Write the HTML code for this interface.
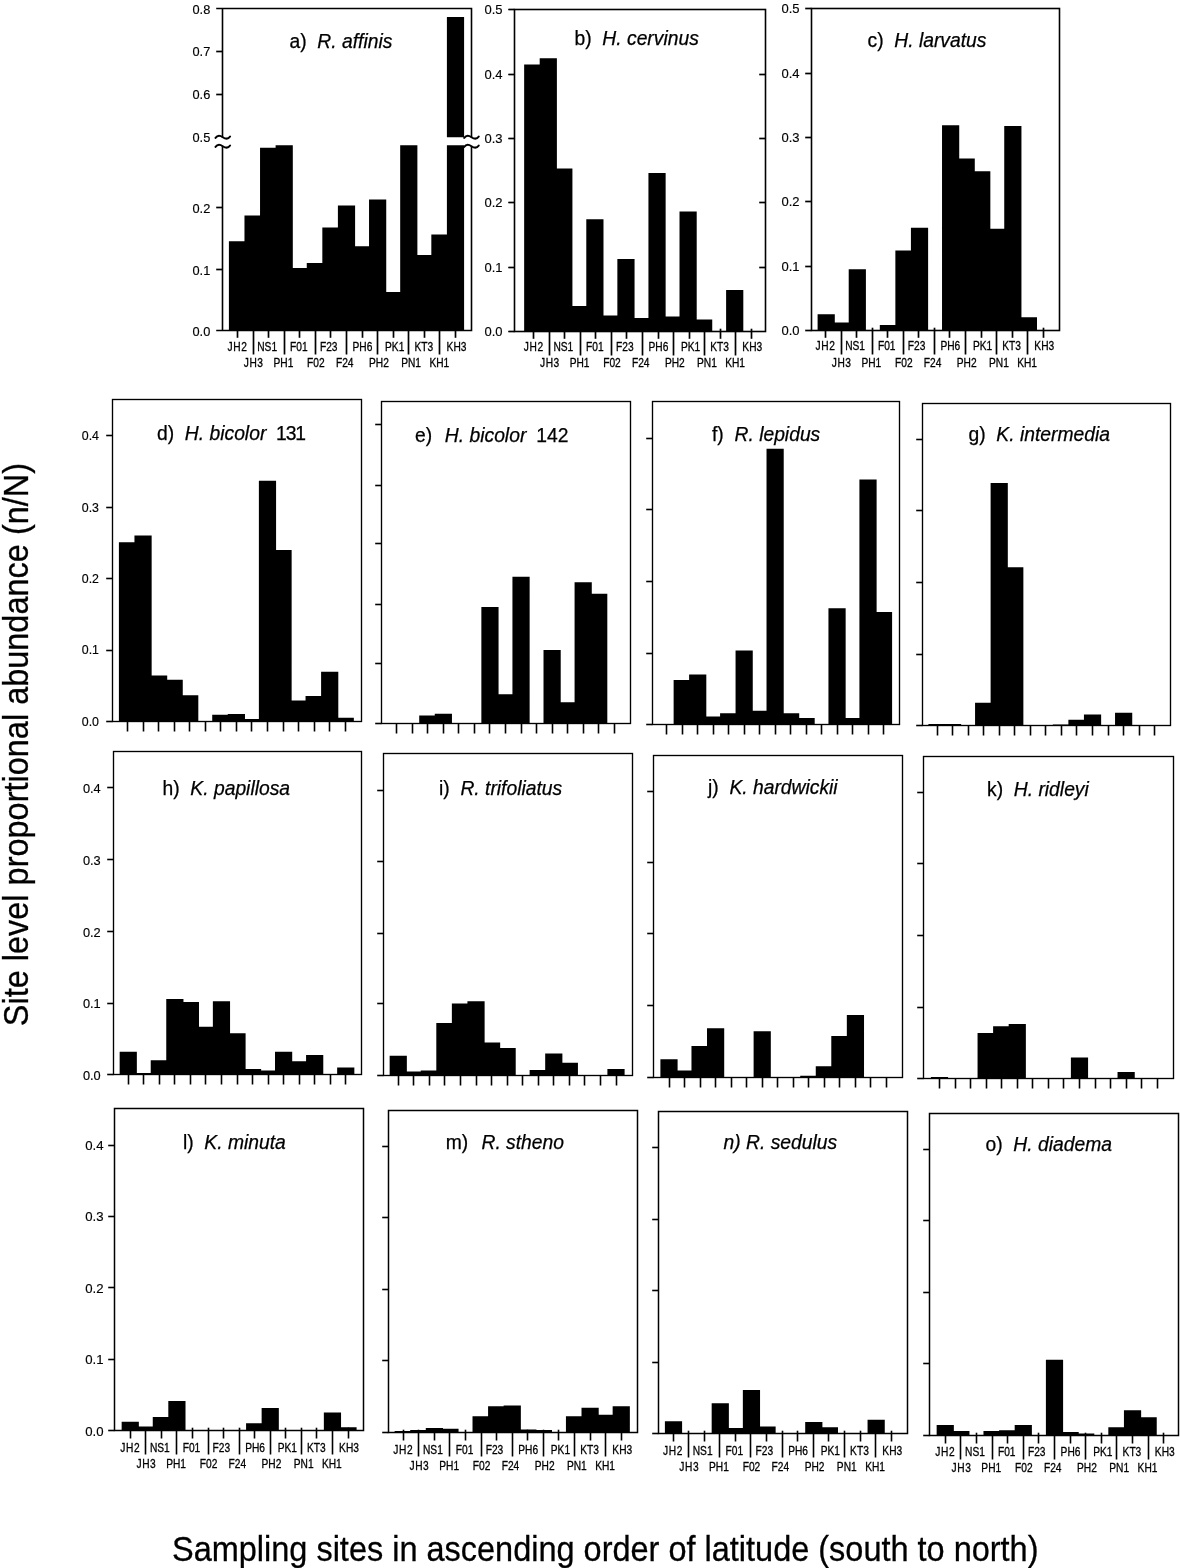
<!DOCTYPE html>
<html lang="en">
<head>
<meta charset="utf-8">
<title>Site level proportional abundance</title>
<style>
html,body{margin:0;padding:0;background:#fff;}
body{width:1180px;height:1568px;overflow:hidden;position:relative;}
svg{will-change:transform;position:absolute;left:0;top:0;display:block;}
text{font-family:"Liberation Sans",sans-serif;fill:#000;}
.f{fill:none;stroke:#000;stroke-width:1.35;}
.k{fill:none;stroke:#000;stroke-width:1.6;}
.top .f{stroke-width:1.6;}
.top .k{stroke-width:1.7;}
.bot .f{stroke-width:1.5;}
.w{fill:none;stroke:#000;stroke-width:2;stroke-linecap:round;}
.b{fill:#000;stroke:none;}
.t{font-size:19.3px;stroke:#000;stroke-width:0.25;}
.y{font-size:12.4px;text-anchor:end;stroke:#000;stroke-width:0.15;}
.x{font-size:12px;text-anchor:middle;stroke:#000;stroke-width:0.3;}
.big{font-size:34.6px;stroke:#000;stroke-width:0.3;}
</style>
</head>
<body>
<svg width="1180" height="1568" viewBox="0 0 1180 1568">
<rect x="0" y="0" width="1180" height="1568" fill="#fff"/>
<g id="pd">
<rect x="112.50" y="399.50" width="249.00" height="322.00" class="f"/>
<path d="M118.90 721.50v-179.25h17.2v179.25zM134.45 721.50v-186.00h17.2v186.00zM150.01 721.50v-46.00h17.2v46.00zM165.56 721.50v-41.75h17.2v41.75zM181.11 721.50v-26.25h17.2v26.25zM196.67 721.50v-0.40h17.2v0.40zM212.22 721.50v-6.75h17.2v6.75zM227.78 721.50v-7.50h17.2v7.50zM243.33 721.50v-2.50h17.2v2.50zM258.88 721.50v-240.75h17.2v240.75zM274.44 721.50v-171.50h17.2v171.50zM289.99 721.50v-21.00h17.2v21.00zM305.54 721.50v-25.50h17.2v25.50zM321.10 721.50v-49.75h17.2v49.75zM336.65 721.50v-3.75h17.2v3.75z" class="b"/>
<path d="M106.20 435.50H112.50" class="k"/>
<text x="99.00" y="440.15" class="y" style="font-size:12.4px">0.4</text>
<path d="M106.20 507.50H112.50" class="k"/>
<text x="99.00" y="511.65" class="y" style="font-size:12.4px">0.3</text>
<path d="M106.20 578.50H112.50" class="k"/>
<text x="99.00" y="582.65" class="y" style="font-size:12.4px">0.2</text>
<path d="M106.20 650.50H112.50" class="k"/>
<text x="99.00" y="654.40" class="y" style="font-size:12.4px">0.1</text>
<path d="M106.20 721.50H112.50" class="k"/>
<text x="99.00" y="726.15" class="y" style="font-size:12.4px">0.0</text>
<path d="M127.50 721.50V731.50" class="k"/>
<path d="M143.50 721.50V731.50" class="k"/>
<path d="M158.50 721.50V731.50" class="k"/>
<path d="M174.50 721.50V731.50" class="k"/>
<path d="M189.50 721.50V731.50" class="k"/>
<path d="M205.50 721.50V731.50" class="k"/>
<path d="M220.50 721.50V731.50" class="k"/>
<path d="M236.50 721.50V731.50" class="k"/>
<path d="M251.50 721.50V731.50" class="k"/>
<path d="M267.50 721.50V731.50" class="k"/>
<path d="M283.50 721.50V731.50" class="k"/>
<path d="M298.50 721.50V731.50" class="k"/>
<path d="M314.50 721.50V731.50" class="k"/>
<path d="M329.50 721.50V731.50" class="k"/>
<path d="M345.50 721.50V731.50" class="k"/>
<text x="157.00" y="439.50" class="t" xml:space="preserve">d)  <tspan font-style="italic">H. bicolor</tspan>  <tspan letter-spacing="-1.1" dx="-1">131</tspan></text>
</g>
<g id="pe">
<rect x="381.50" y="401.50" width="249.00" height="322.00" class="f"/>
<path d="M419.22 723.50v-8.00h17.2v8.00zM434.76 723.50v-9.75h17.2v9.75zM481.36 723.50v-116.50h17.2v116.50zM496.90 723.50v-29.25h17.2v29.25zM512.44 723.50v-146.75h17.2v146.75zM543.51 723.50v-73.50h17.2v73.50zM559.04 723.50v-21.25h17.2v21.25zM574.58 723.50v-141.25h17.2v141.25zM590.11 723.50v-129.75h17.2v129.75z" class="b"/>
<path d="M375.20 424.50H381.50" class="k"/>
<path d="M375.20 485.50H381.50" class="k"/>
<path d="M375.20 543.50H381.50" class="k"/>
<path d="M375.20 604.50H381.50" class="k"/>
<path d="M375.20 663.50H381.50" class="k"/>
<path d="M375.20 723.50H381.50" class="k"/>
<path d="M396.50 723.50V733.50" class="k"/>
<path d="M412.50 723.50V733.50" class="k"/>
<path d="M427.50 723.50V733.50" class="k"/>
<path d="M443.50 723.50V733.50" class="k"/>
<path d="M458.50 723.50V733.50" class="k"/>
<path d="M474.50 723.50V733.50" class="k"/>
<path d="M489.50 723.50V733.50" class="k"/>
<path d="M505.50 723.50V733.50" class="k"/>
<path d="M521.50 723.50V733.50" class="k"/>
<path d="M536.50 723.50V733.50" class="k"/>
<path d="M552.50 723.50V733.50" class="k"/>
<path d="M567.50 723.50V733.50" class="k"/>
<path d="M583.50 723.50V733.50" class="k"/>
<path d="M598.50 723.50V733.50" class="k"/>
<path d="M614.50 723.50V733.50" class="k"/>
<text x="415.00" y="442.00" class="t" xml:space="preserve">e)  <tspan font-style="italic" dx="2">H. bicolor</tspan>  <tspan dx="-0.7">142</tspan></text>
</g>
<g id="pf">
<rect x="652.50" y="401.50" width="247.00" height="323.00" class="f"/>
<path d="M673.63 724.50v-44.50h17.2v44.50zM689.11 724.50v-50.00h17.2v50.00zM704.60 724.50v-8.00h17.2v8.00zM720.08 724.50v-11.25h17.2v11.25zM735.56 724.50v-74.00h17.2v74.00zM751.04 724.50v-13.75h17.2v13.75zM766.52 724.50v-275.75h17.2v275.75zM782.01 724.50v-11.25h17.2v11.25zM797.49 724.50v-6.50h17.2v6.50zM828.45 724.50v-116.25h17.2v116.25zM843.94 724.50v-6.50h17.2v6.50zM859.42 724.50v-245.00h17.2v245.00zM874.90 724.50v-112.50h17.2v112.50z" class="b"/>
<path d="M646.20 438.50H652.50" class="k"/>
<path d="M646.20 509.50H652.50" class="k"/>
<path d="M646.20 581.50H652.50" class="k"/>
<path d="M646.20 653.50H652.50" class="k"/>
<path d="M646.20 724.50H652.50" class="k"/>
<path d="M666.50 724.50V734.50" class="k"/>
<path d="M682.50 724.50V734.50" class="k"/>
<path d="M697.50 724.50V734.50" class="k"/>
<path d="M713.50 724.50V734.50" class="k"/>
<path d="M728.50 724.50V734.50" class="k"/>
<path d="M744.50 724.50V734.50" class="k"/>
<path d="M759.50 724.50V734.50" class="k"/>
<path d="M775.50 724.50V734.50" class="k"/>
<path d="M790.50 724.50V734.50" class="k"/>
<path d="M806.50 724.50V734.50" class="k"/>
<path d="M821.50 724.50V734.50" class="k"/>
<path d="M837.50 724.50V734.50" class="k"/>
<path d="M852.50 724.50V734.50" class="k"/>
<path d="M868.50 724.50V734.50" class="k"/>
<path d="M883.50 724.50V734.50" class="k"/>
<text x="712.00" y="440.75" class="t" xml:space="preserve">f)  <tspan font-style="italic">R. lepidus</tspan></text>
</g>
<g id="pg">
<rect x="922.50" y="403.50" width="248.00" height="322.00" class="f"/>
<path d="M928.40 725.50v-1.50h17.2v1.50zM943.95 725.50v-1.50h17.2v1.50zM975.06 725.50v-22.75h17.2v22.75zM990.61 725.50v-242.50h17.2v242.50zM1006.17 725.50v-158.25h17.2v158.25zM1052.83 725.50v-1.00h17.2v1.00zM1068.38 725.50v-5.75h17.2v5.75zM1083.94 725.50v-11.00h17.2v11.00zM1115.04 725.50v-12.75h17.2v12.75z" class="b"/>
<path d="M916.20 439.50H922.50" class="k"/>
<path d="M916.20 510.50H922.50" class="k"/>
<path d="M916.20 582.50H922.50" class="k"/>
<path d="M916.20 654.50H922.50" class="k"/>
<path d="M916.20 725.50H922.50" class="k"/>
<path d="M937.50 725.50V735.50" class="k"/>
<path d="M952.50 725.50V735.50" class="k"/>
<path d="M968.50 725.50V735.50" class="k"/>
<path d="M983.50 725.50V735.50" class="k"/>
<path d="M999.50 725.50V735.50" class="k"/>
<path d="M1014.50 725.50V735.50" class="k"/>
<path d="M1030.50 725.50V735.50" class="k"/>
<path d="M1045.50 725.50V735.50" class="k"/>
<path d="M1061.50 725.50V735.50" class="k"/>
<path d="M1076.50 725.50V735.50" class="k"/>
<path d="M1092.50 725.50V735.50" class="k"/>
<path d="M1108.50 725.50V735.50" class="k"/>
<path d="M1123.50 725.50V735.50" class="k"/>
<path d="M1139.50 725.50V735.50" class="k"/>
<path d="M1154.50 725.50V735.50" class="k"/>
<text x="968.50" y="440.50" class="t" xml:space="preserve">g)  <tspan font-style="italic">K. intermedia</tspan></text>
</g>
<g id="ph">
<rect x="113.50" y="751.50" width="248.00" height="323.00" class="f"/>
<path d="M119.65 1074.50v-22.75h17.2v22.75zM135.19 1074.50v-1.50h17.2v1.50zM150.72 1074.50v-14.25h17.2v14.25zM166.26 1074.50v-75.50h17.2v75.50zM181.79 1074.50v-72.50h17.2v72.50zM197.33 1074.50v-47.75h17.2v47.75zM212.86 1074.50v-73.25h17.2v73.25zM228.40 1074.50v-41.25h17.2v41.25zM243.94 1074.50v-5.50h17.2v5.50zM259.47 1074.50v-4.00h17.2v4.00zM275.01 1074.50v-22.75h17.2v22.75zM290.54 1074.50v-13.25h17.2v13.25zM306.08 1074.50v-19.50h17.2v19.50zM321.61 1074.50v-0.30h17.2v0.30zM337.15 1074.50v-7.00h17.2v7.00z" class="b"/>
<path d="M107.20 787.50H113.50" class="k"/>
<text x="100.70" y="792.70" class="y" style="font-size:12.8px">0.4</text>
<path d="M107.20 859.50H113.50" class="k"/>
<text x="100.70" y="864.95" class="y" style="font-size:12.8px">0.3</text>
<path d="M107.20 931.50H113.50" class="k"/>
<text x="100.70" y="936.70" class="y" style="font-size:12.8px">0.2</text>
<path d="M107.20 1003.50H113.50" class="k"/>
<text x="100.70" y="1008.20" class="y" style="font-size:12.8px">0.1</text>
<path d="M107.20 1074.50H113.50" class="k"/>
<text x="100.70" y="1079.70" class="y" style="font-size:12.8px">0.0</text>
<path d="M128.50 1074.50V1084.50" class="k"/>
<path d="M143.50 1074.50V1084.50" class="k"/>
<path d="M159.50 1074.50V1084.50" class="k"/>
<path d="M174.50 1074.50V1084.50" class="k"/>
<path d="M190.50 1074.50V1084.50" class="k"/>
<path d="M205.50 1074.50V1084.50" class="k"/>
<path d="M221.50 1074.50V1084.50" class="k"/>
<path d="M237.50 1074.50V1084.50" class="k"/>
<path d="M252.50 1074.50V1084.50" class="k"/>
<path d="M268.50 1074.50V1084.50" class="k"/>
<path d="M283.50 1074.50V1084.50" class="k"/>
<path d="M299.50 1074.50V1084.50" class="k"/>
<path d="M314.50 1074.50V1084.50" class="k"/>
<path d="M330.50 1074.50V1084.50" class="k"/>
<path d="M345.50 1074.50V1084.50" class="k"/>
<text x="162.50" y="795.00" class="t" xml:space="preserve">h)  <tspan font-style="italic">K. papillosa</tspan></text>
</g>
<g id="pi">
<rect x="383.50" y="753.50" width="249.00" height="322.00" class="f"/>
<path d="M389.65 1075.50v-19.75h17.2v19.75zM405.20 1075.50v-4.00h17.2v4.00zM420.76 1075.50v-5.00h17.2v5.00zM436.31 1075.50v-52.50h17.2v52.50zM451.86 1075.50v-72.00h17.2v72.00zM467.42 1075.50v-74.25h17.2v74.25zM482.97 1075.50v-33.00h17.2v33.00zM498.52 1075.50v-27.50h17.2v27.50zM529.63 1075.50v-5.50h17.2v5.50zM545.19 1075.50v-22.00h17.2v22.00zM560.74 1075.50v-12.75h17.2v12.75zM607.40 1075.50v-6.50h17.2v6.50z" class="b"/>
<path d="M377.20 790.50H383.50" class="k"/>
<path d="M377.20 861.50H383.50" class="k"/>
<path d="M377.20 933.50H383.50" class="k"/>
<path d="M377.20 1003.50H383.50" class="k"/>
<path d="M377.20 1075.50H383.50" class="k"/>
<path d="M398.50 1075.50V1085.50" class="k"/>
<path d="M413.50 1075.50V1085.50" class="k"/>
<path d="M429.50 1075.50V1085.50" class="k"/>
<path d="M444.50 1075.50V1085.50" class="k"/>
<path d="M460.50 1075.50V1085.50" class="k"/>
<path d="M476.50 1075.50V1085.50" class="k"/>
<path d="M491.50 1075.50V1085.50" class="k"/>
<path d="M507.50 1075.50V1085.50" class="k"/>
<path d="M522.50 1075.50V1085.50" class="k"/>
<path d="M538.50 1075.50V1085.50" class="k"/>
<path d="M553.50 1075.50V1085.50" class="k"/>
<path d="M569.50 1075.50V1085.50" class="k"/>
<path d="M584.50 1075.50V1085.50" class="k"/>
<path d="M600.50 1075.50V1085.50" class="k"/>
<path d="M616.50 1075.50V1085.50" class="k"/>
<text x="439.00" y="795.00" class="t" xml:space="preserve">i)  <tspan font-style="italic">R. trifoliatus</tspan></text>
</g>
<g id="pj">
<rect x="653.50" y="755.50" width="249.00" height="322.00" class="f"/>
<path d="M660.40 1077.50v-18.25h17.2v18.25zM675.94 1077.50v-7.00h17.2v7.00zM691.47 1077.50v-31.50h17.2v31.50zM707.01 1077.50v-49.25h17.2v49.25zM753.61 1077.50v-46.25h17.2v46.25zM800.22 1077.50v-1.75h17.2v1.75zM815.76 1077.50v-11.25h17.2v11.25zM831.29 1077.50v-41.50h17.2v41.50zM846.83 1077.50v-62.50h17.2v62.50z" class="b"/>
<path d="M647.20 791.50H653.50" class="k"/>
<path d="M647.20 862.50H653.50" class="k"/>
<path d="M647.20 933.50H653.50" class="k"/>
<path d="M647.20 1005.50H653.50" class="k"/>
<path d="M647.20 1077.50H653.50" class="k"/>
<path d="M669.50 1077.50V1087.50" class="k"/>
<path d="M684.50 1077.50V1087.50" class="k"/>
<path d="M700.50 1077.50V1087.50" class="k"/>
<path d="M715.50 1077.50V1087.50" class="k"/>
<path d="M731.50 1077.50V1087.50" class="k"/>
<path d="M746.50 1077.50V1087.50" class="k"/>
<path d="M762.50 1077.50V1087.50" class="k"/>
<path d="M777.50 1077.50V1087.50" class="k"/>
<path d="M793.50 1077.50V1087.50" class="k"/>
<path d="M808.50 1077.50V1087.50" class="k"/>
<path d="M824.50 1077.50V1087.50" class="k"/>
<path d="M839.50 1077.50V1087.50" class="k"/>
<path d="M855.50 1077.50V1087.50" class="k"/>
<path d="M870.50 1077.50V1087.50" class="k"/>
<path d="M886.50 1077.50V1087.50" class="k"/>
<text x="708.00" y="793.50" class="t" xml:space="preserve">j)  <tspan font-style="italic">K. hardwickii</tspan></text>
</g>
<g id="pk">
<rect x="923.50" y="756.50" width="250.00" height="322.00" class="f"/>
<path d="M930.90 1078.50v-1.50h17.2v1.50zM977.56 1078.50v-45.50h17.2v45.50zM993.11 1078.50v-52.25h17.2v52.25zM1008.67 1078.50v-54.50h17.2v54.50zM1070.88 1078.50v-21.00h17.2v21.00zM1117.54 1078.50v-6.50h17.2v6.50z" class="b"/>
<path d="M917.20 792.50H923.50" class="k"/>
<path d="M917.20 863.50H923.50" class="k"/>
<path d="M917.20 935.50H923.50" class="k"/>
<path d="M917.20 1007.50H923.50" class="k"/>
<path d="M917.20 1078.50H923.50" class="k"/>
<path d="M939.50 1078.50V1088.50" class="k"/>
<path d="M955.50 1078.50V1088.50" class="k"/>
<path d="M970.50 1078.50V1088.50" class="k"/>
<path d="M986.50 1078.50V1088.50" class="k"/>
<path d="M1001.50 1078.50V1088.50" class="k"/>
<path d="M1017.50 1078.50V1088.50" class="k"/>
<path d="M1032.50 1078.50V1088.50" class="k"/>
<path d="M1048.50 1078.50V1088.50" class="k"/>
<path d="M1063.50 1078.50V1088.50" class="k"/>
<path d="M1079.50 1078.50V1088.50" class="k"/>
<path d="M1095.50 1078.50V1088.50" class="k"/>
<path d="M1110.50 1078.50V1088.50" class="k"/>
<path d="M1126.50 1078.50V1088.50" class="k"/>
<path d="M1141.50 1078.50V1088.50" class="k"/>
<path d="M1157.50 1078.50V1088.50" class="k"/>
<text x="987.00" y="795.75" class="t" xml:space="preserve">k)  <tspan font-style="italic">H. ridleyi</tspan></text>
</g>
<g id="pl" class="bot">
<rect x="114.50" y="1108.50" width="249.00" height="322.00" class="f"/>
<path d="M121.65 1430.50v-8.75h17.2v8.75zM137.20 1430.50v-4.00h17.2v4.00zM152.76 1430.50v-13.50h17.2v13.50zM168.31 1430.50v-29.50h17.2v29.50zM246.08 1430.50v-7.25h17.2v7.25zM261.63 1430.50v-22.50h17.2v22.50zM323.85 1430.50v-18.00h17.2v18.00zM339.40 1430.50v-3.25h17.2v3.25z" class="b"/>
<path d="M108.20 1145.50H114.50" class="k"/>
<text x="103.50" y="1149.80" class="y" style="font-size:13.2px">0.4</text>
<path d="M108.20 1216.50H114.50" class="k"/>
<text x="103.50" y="1221.30" class="y" style="font-size:13.2px">0.3</text>
<path d="M108.20 1287.50H114.50" class="k"/>
<text x="103.50" y="1292.55" class="y" style="font-size:13.2px">0.2</text>
<path d="M108.20 1359.50H114.50" class="k"/>
<text x="103.50" y="1364.30" class="y" style="font-size:13.2px">0.1</text>
<path d="M108.20 1430.50H114.50" class="k"/>
<text x="103.50" y="1435.55" class="y" style="font-size:13.2px">0.0</text>
<path d="M130.50 1427.70V1438.50" class="k"/>
<text transform="translate(130.25 1451.90) scale(0.85 1)" class="x" letter-spacing="0.7">JH2</text>
<path d="M145.50 1427.70V1454.50" class="k"/>
<text transform="translate(146.40 1467.70) scale(0.85 1)" class="x" letter-spacing="0.7">JH3</text>
<path d="M161.50 1427.70V1438.50" class="k"/>
<text transform="translate(159.86 1451.90) scale(0.85 1)" class="x">NS1</text>
<path d="M176.50 1427.70V1454.50" class="k"/>
<text transform="translate(176.11 1467.70) scale(0.85 1)" class="x">PH1</text>
<path d="M192.50 1427.70V1438.50" class="k"/>
<text transform="translate(191.46 1451.90) scale(0.85 1)" class="x">F01</text>
<path d="M208.50 1427.70V1454.50" class="k"/>
<text transform="translate(208.52 1467.70) scale(0.85 1)" class="x">F02</text>
<path d="M223.50 1427.70V1438.50" class="k"/>
<text transform="translate(221.37 1451.90) scale(0.85 1)" class="x">F23</text>
<path d="M239.50 1427.70V1454.50" class="k"/>
<text transform="translate(237.38 1467.70) scale(0.85 1)" class="x">F24</text>
<path d="M254.50 1427.70V1438.50" class="k"/>
<text transform="translate(255.08 1451.90) scale(0.85 1)" class="x">PH6</text>
<path d="M270.50 1427.70V1454.50" class="k"/>
<text transform="translate(271.48 1467.70) scale(0.85 1)" class="x">PH2</text>
<path d="M285.50 1427.70V1438.50" class="k"/>
<text transform="translate(287.29 1451.90) scale(0.85 1)" class="x">PK1</text>
<path d="M301.50 1427.70V1454.50" class="k"/>
<text transform="translate(303.64 1467.70) scale(0.85 1)" class="x">PN1</text>
<path d="M316.50 1427.70V1438.50" class="k"/>
<text transform="translate(316.29 1451.90) scale(0.85 1)" class="x">KT3</text>
<path d="M332.50 1427.70V1454.50" class="k"/>
<text transform="translate(331.85 1467.70) scale(0.85 1)" class="x">KH1</text>
<path d="M348.50 1427.70V1438.50" class="k"/>
<text transform="translate(349.00 1451.90) scale(0.85 1)" class="x">KH3</text>
<text x="182.95" y="1148.50" class="t" xml:space="preserve">l)  <tspan font-style="italic">K. minuta</tspan></text>
</g>
<g id="pm" class="bot">
<rect x="388.50" y="1110.50" width="249.00" height="322.00" class="f"/>
<path d="M394.65 1432.50v-1.50h17.2v1.50zM410.22 1432.50v-2.50h17.2v2.50zM425.79 1432.50v-4.50h17.2v4.50zM441.36 1432.50v-3.75h17.2v3.75zM472.51 1432.50v-16.25h17.2v16.25zM488.08 1432.50v-26.25h17.2v26.25zM503.65 1432.50v-27.00h17.2v27.00zM519.22 1432.50v-3.00h17.2v3.00zM534.79 1432.50v-2.50h17.2v2.50zM565.94 1432.50v-16.25h17.2v16.25zM581.51 1432.50v-24.75h17.2v24.75zM597.08 1432.50v-17.75h17.2v17.75zM612.65 1432.50v-26.25h17.2v26.25z" class="b"/>
<path d="M382.20 1146.50H388.50" class="k"/>
<path d="M382.20 1217.50H388.50" class="k"/>
<path d="M382.20 1289.50H388.50" class="k"/>
<path d="M382.20 1360.50H388.50" class="k"/>
<path d="M382.20 1432.50H388.50" class="k"/>
<path d="M403.50 1429.70V1440.50" class="k"/>
<text transform="translate(403.25 1453.50) scale(0.85 1)" class="x" letter-spacing="0.7">JH2</text>
<path d="M418.50 1429.70V1456.50" class="k"/>
<text transform="translate(419.42 1469.50) scale(0.85 1)" class="x" letter-spacing="0.7">JH3</text>
<path d="M434.50 1429.70V1440.50" class="k"/>
<text transform="translate(432.89 1453.50) scale(0.85 1)" class="x">NS1</text>
<path d="M449.50 1429.70V1456.50" class="k"/>
<text transform="translate(449.16 1469.50) scale(0.85 1)" class="x">PH1</text>
<path d="M465.50 1429.70V1440.50" class="k"/>
<text transform="translate(464.54 1453.50) scale(0.85 1)" class="x">F01</text>
<path d="M481.50 1429.70V1456.50" class="k"/>
<text transform="translate(481.61 1469.50) scale(0.85 1)" class="x">F02</text>
<path d="M496.50 1429.70V1440.50" class="k"/>
<text transform="translate(494.48 1453.50) scale(0.85 1)" class="x">F23</text>
<path d="M512.50 1429.70V1456.50" class="k"/>
<text transform="translate(510.50 1469.50) scale(0.85 1)" class="x">F24</text>
<path d="M527.50 1429.70V1440.50" class="k"/>
<text transform="translate(528.22 1453.50) scale(0.85 1)" class="x">PH6</text>
<path d="M543.50 1429.70V1456.50" class="k"/>
<text transform="translate(544.64 1469.50) scale(0.85 1)" class="x">PH2</text>
<path d="M558.50 1429.70V1440.50" class="k"/>
<text transform="translate(560.46 1453.50) scale(0.85 1)" class="x">PK1</text>
<path d="M574.50 1429.70V1456.50" class="k"/>
<text transform="translate(576.84 1469.50) scale(0.85 1)" class="x">PN1</text>
<path d="M590.50 1429.70V1440.50" class="k"/>
<text transform="translate(589.51 1453.50) scale(0.85 1)" class="x">KT3</text>
<path d="M605.50 1429.70V1456.50" class="k"/>
<text transform="translate(605.08 1469.50) scale(0.85 1)" class="x">KH1</text>
<path d="M621.50 1429.70V1440.50" class="k"/>
<text transform="translate(622.25 1453.50) scale(0.85 1)" class="x">KH3</text>
<text x="445.65" y="1149.00" class="t" xml:space="preserve">m)  <tspan font-style="italic" dx="2.6">R. stheno</tspan></text>
</g>
<g id="pn" class="bot">
<rect x="658.50" y="1111.50" width="249.00" height="322.00" class="f"/>
<path d="M664.90 1433.50v-12.25h17.2v12.25zM711.67 1433.50v-30.25h17.2v30.25zM727.26 1433.50v-5.50h17.2v5.50zM742.85 1433.50v-43.50h17.2v43.50zM758.44 1433.50v-7.00h17.2v7.00zM805.20 1433.50v-11.50h17.2v11.50zM820.79 1433.50v-6.25h17.2v6.25zM867.56 1433.50v-13.75h17.2v13.75z" class="b"/>
<path d="M652.20 1147.50H658.50" class="k"/>
<path d="M652.20 1219.50H658.50" class="k"/>
<path d="M652.20 1290.50H658.50" class="k"/>
<path d="M652.20 1362.50H658.50" class="k"/>
<path d="M652.20 1433.50H658.50" class="k"/>
<path d="M673.50 1430.70V1441.50" class="k"/>
<text transform="translate(673.00 1454.50) scale(0.85 1)" class="x" letter-spacing="0.7">JH2</text>
<path d="M688.50 1430.70V1457.50" class="k"/>
<text transform="translate(689.19 1470.50) scale(0.85 1)" class="x" letter-spacing="0.7">JH3</text>
<path d="M704.50 1430.70V1441.50" class="k"/>
<text transform="translate(702.68 1454.50) scale(0.85 1)" class="x">NS1</text>
<path d="M719.50 1430.70V1457.50" class="k"/>
<text transform="translate(718.97 1470.50) scale(0.85 1)" class="x">PH1</text>
<path d="M735.50 1430.70V1441.50" class="k"/>
<text transform="translate(734.36 1454.50) scale(0.85 1)" class="x">F01</text>
<path d="M750.50 1430.70V1457.50" class="k"/>
<text transform="translate(751.45 1470.50) scale(0.85 1)" class="x">F02</text>
<path d="M766.50 1430.70V1441.50" class="k"/>
<text transform="translate(764.34 1454.50) scale(0.85 1)" class="x">F23</text>
<path d="M782.50 1430.70V1457.50" class="k"/>
<text transform="translate(780.38 1470.50) scale(0.85 1)" class="x">F24</text>
<path d="M797.50 1430.70V1441.50" class="k"/>
<text transform="translate(798.11 1454.50) scale(0.85 1)" class="x">PH6</text>
<path d="M813.50 1430.70V1457.50" class="k"/>
<text transform="translate(814.55 1470.50) scale(0.85 1)" class="x">PH2</text>
<path d="M828.50 1430.70V1441.50" class="k"/>
<text transform="translate(830.39 1454.50) scale(0.85 1)" class="x">PK1</text>
<path d="M844.50 1430.70V1457.50" class="k"/>
<text transform="translate(846.78 1470.50) scale(0.85 1)" class="x">PN1</text>
<path d="M860.50 1430.70V1441.50" class="k"/>
<text transform="translate(859.47 1454.50) scale(0.85 1)" class="x">KT3</text>
<path d="M875.50 1430.70V1457.50" class="k"/>
<text transform="translate(875.06 1470.50) scale(0.85 1)" class="x">KH1</text>
<path d="M891.50 1430.70V1441.50" class="k"/>
<text transform="translate(892.25 1454.50) scale(0.85 1)" class="x">KH3</text>
<text x="723.50" y="1149.25" class="t" xml:space="preserve"><tspan font-style="italic">n) R. sedulus</tspan></text>
</g>
<g id="po" class="bot">
<rect x="929.50" y="1113.50" width="249.00" height="322.00" class="f"/>
<path d="M936.65 1435.50v-10.50h17.2v10.50zM952.26 1435.50v-4.50h17.2v4.50zM983.47 1435.50v-4.50h17.2v4.50zM999.08 1435.50v-5.25h17.2v5.25zM1014.69 1435.50v-10.50h17.2v10.50zM1045.90 1435.50v-75.75h17.2v75.75zM1061.51 1435.50v-3.50h17.2v3.50zM1077.11 1435.50v-2.00h17.2v2.00zM1108.33 1435.50v-8.25h17.2v8.25zM1123.94 1435.50v-25.25h17.2v25.25zM1139.54 1435.50v-18.25h17.2v18.25z" class="b"/>
<path d="M923.20 1149.50H929.50" class="k"/>
<path d="M923.20 1220.50H929.50" class="k"/>
<path d="M923.20 1292.50H929.50" class="k"/>
<path d="M923.20 1363.50H929.50" class="k"/>
<path d="M923.20 1435.50H929.50" class="k"/>
<path d="M945.50 1432.70V1443.50" class="k"/>
<text transform="translate(945.25 1456.10) scale(0.85 1)" class="x" letter-spacing="0.7">JH2</text>
<path d="M960.50 1432.70V1459.50" class="k"/>
<text transform="translate(961.46 1472.30) scale(0.85 1)" class="x" letter-spacing="0.7">JH3</text>
<path d="M976.50 1432.70V1443.50" class="k"/>
<text transform="translate(974.96 1456.10) scale(0.85 1)" class="x">NS1</text>
<path d="M992.50 1432.70V1459.50" class="k"/>
<text transform="translate(991.27 1472.30) scale(0.85 1)" class="x">PH1</text>
<path d="M1007.50 1432.70V1443.50" class="k"/>
<text transform="translate(1006.68 1456.10) scale(0.85 1)" class="x">F01</text>
<path d="M1023.50 1432.70V1459.50" class="k"/>
<text transform="translate(1023.79 1472.30) scale(0.85 1)" class="x">F02</text>
<path d="M1038.50 1432.70V1443.50" class="k"/>
<text transform="translate(1036.69 1456.10) scale(0.85 1)" class="x">F23</text>
<path d="M1054.50 1432.70V1459.50" class="k"/>
<text transform="translate(1052.75 1472.30) scale(0.85 1)" class="x">F24</text>
<path d="M1070.50 1432.70V1443.50" class="k"/>
<text transform="translate(1070.51 1456.10) scale(0.85 1)" class="x">PH6</text>
<path d="M1085.50 1432.70V1459.50" class="k"/>
<text transform="translate(1086.96 1472.30) scale(0.85 1)" class="x">PH2</text>
<path d="M1101.50 1432.70V1443.50" class="k"/>
<text transform="translate(1102.82 1456.10) scale(0.85 1)" class="x">PK1</text>
<path d="M1116.50 1432.70V1459.50" class="k"/>
<text transform="translate(1119.23 1472.30) scale(0.85 1)" class="x">PN1</text>
<path d="M1132.50 1432.70V1443.50" class="k"/>
<text transform="translate(1131.94 1456.10) scale(0.85 1)" class="x">KT3</text>
<path d="M1148.50 1432.70V1459.50" class="k"/>
<text transform="translate(1147.54 1472.30) scale(0.85 1)" class="x">KH1</text>
<path d="M1163.50 1432.70V1443.50" class="k"/>
<text transform="translate(1164.75 1456.10) scale(0.85 1)" class="x">KH3</text>
<text x="985.50" y="1151.25" class="t" xml:space="preserve">o)  <tspan font-style="italic">H. diadema</tspan></text>
</g>
<g id="pb" class="top">
<rect x="514.50" y="9.50" width="251.00" height="322.00" class="f"/>
<path d="M524.15 331.50v-267.00h17.2v267.00zM539.69 331.50v-273.25h17.2v273.25zM555.22 331.50v-163.00h17.2v163.00zM570.76 331.50v-25.50h17.2v25.50zM586.29 331.50v-112.25h17.2v112.25zM601.83 331.50v-16.00h17.2v16.00zM617.36 331.50v-72.50h17.2v72.50zM632.90 331.50v-13.50h17.2v13.50zM648.44 331.50v-158.50h17.2v158.50zM663.97 331.50v-15.00h17.2v15.00zM679.51 331.50v-120.00h17.2v120.00zM695.04 331.50v-12.00h17.2v12.00zM726.11 331.50v-41.50h17.2v41.50z" class="b"/>
<path d="M508.20 9.50H514.50" class="k"/>
<text x="502.50" y="14.20" class="y" style="font-size:13px">0.5</text>
<path d="M508.20 74.50H514.50" class="k"/>
<text x="502.50" y="79.20" class="y" style="font-size:13px">0.4</text>
<path d="M759.20 74.50H765.50" class="k"/>
<path d="M508.20 138.50H514.50" class="k"/>
<text x="502.50" y="143.20" class="y" style="font-size:13px">0.3</text>
<path d="M759.20 138.50H765.50" class="k"/>
<path d="M508.20 202.50H514.50" class="k"/>
<text x="502.50" y="207.20" class="y" style="font-size:13px">0.2</text>
<path d="M759.20 202.50H765.50" class="k"/>
<path d="M508.20 267.50H514.50" class="k"/>
<text x="502.50" y="272.20" class="y" style="font-size:13px">0.1</text>
<path d="M759.20 267.50H765.50" class="k"/>
<path d="M508.20 331.50H514.50" class="k"/>
<text x="502.50" y="336.20" class="y" style="font-size:13px">0.0</text>
<path d="M533.50 328.70V338.80" class="k"/>
<text transform="translate(533.75 350.70) scale(0.85 1)" class="x" letter-spacing="0.7">JH2</text>
<path d="M549.50 328.70V355.50" class="k"/>
<text transform="translate(549.89 366.70) scale(0.85 1)" class="x" letter-spacing="0.7">JH3</text>
<path d="M564.50 328.70V338.80" class="k"/>
<text transform="translate(563.32 350.70) scale(0.85 1)" class="x">NS1</text>
<path d="M580.50 328.70V355.50" class="k"/>
<text transform="translate(579.56 366.70) scale(0.85 1)" class="x">PH1</text>
<path d="M595.50 328.70V338.80" class="k"/>
<text transform="translate(594.89 350.70) scale(0.85 1)" class="x">F01</text>
<path d="M611.50 328.70V355.50" class="k"/>
<text transform="translate(611.93 366.70) scale(0.85 1)" class="x">F02</text>
<path d="M626.50 328.70V338.80" class="k"/>
<text transform="translate(624.76 350.70) scale(0.85 1)" class="x">F23</text>
<path d="M642.50 328.70V355.50" class="k"/>
<text transform="translate(640.75 366.70) scale(0.85 1)" class="x">F24</text>
<path d="M658.50 328.70V338.80" class="k"/>
<text transform="translate(658.44 350.70) scale(0.85 1)" class="x">PH6</text>
<path d="M673.50 328.70V355.50" class="k"/>
<text transform="translate(674.82 366.70) scale(0.85 1)" class="x">PH2</text>
<path d="M689.50 328.70V338.80" class="k"/>
<text transform="translate(690.61 350.70) scale(0.85 1)" class="x">PK1</text>
<path d="M704.50 328.70V355.50" class="k"/>
<text transform="translate(706.94 366.70) scale(0.85 1)" class="x">PN1</text>
<path d="M720.50 328.70V338.80" class="k"/>
<text transform="translate(719.58 350.70) scale(0.85 1)" class="x">KT3</text>
<path d="M735.50 328.70V355.50" class="k"/>
<text transform="translate(735.11 366.70) scale(0.85 1)" class="x">KH1</text>
<path d="M751.50 328.70V338.80" class="k"/>
<text transform="translate(752.25 350.70) scale(0.85 1)" class="x">KH3</text>
<text x="574.50" y="44.50" class="t" xml:space="preserve">b)  <tspan font-style="italic">H. cervinus</tspan></text>
</g>
<g id="pc" class="top">
<rect x="811.50" y="8.50" width="248.00" height="322.00" class="f"/>
<path d="M817.60 330.50v-16.25h17.2v16.25zM833.15 330.50v-8.00h17.2v8.00zM848.71 330.50v-61.25h17.2v61.25zM879.81 330.50v-5.50h17.2v5.50zM895.37 330.50v-80.00h17.2v80.00zM910.92 330.50v-102.75h17.2v102.75zM942.03 330.50v-205.25h17.2v205.25zM957.58 330.50v-172.00h17.2v172.00zM973.14 330.50v-159.25h17.2v159.25zM988.69 330.50v-101.75h17.2v101.75zM1004.24 330.50v-204.50h17.2v204.50zM1019.80 330.50v-13.25h17.2v13.25z" class="b"/>
<path d="M805.20 8.50H811.50" class="k"/>
<text x="799.50" y="13.20" class="y" style="font-size:13px">0.5</text>
<path d="M805.20 73.50H811.50" class="k"/>
<text x="799.50" y="78.20" class="y" style="font-size:13px">0.4</text>
<path d="M805.20 137.50H811.50" class="k"/>
<text x="799.50" y="142.20" class="y" style="font-size:13px">0.3</text>
<path d="M805.20 201.50H811.50" class="k"/>
<text x="799.50" y="206.20" class="y" style="font-size:13px">0.2</text>
<path d="M805.20 266.50H811.50" class="k"/>
<text x="799.50" y="271.20" class="y" style="font-size:13px">0.1</text>
<path d="M805.20 330.50H811.50" class="k"/>
<text x="799.50" y="335.20" class="y" style="font-size:13px">0.0</text>
<path d="M825.50 327.70V337.80" class="k"/>
<text transform="translate(825.50 350.30) scale(0.85 1)" class="x" letter-spacing="0.7">JH2</text>
<path d="M841.50 327.70V354.50" class="k"/>
<text transform="translate(841.65 366.50) scale(0.85 1)" class="x" letter-spacing="0.7">JH3</text>
<path d="M856.50 327.70V337.80" class="k"/>
<text transform="translate(855.11 350.30) scale(0.85 1)" class="x">NS1</text>
<path d="M872.50 327.70V354.50" class="k"/>
<text transform="translate(871.36 366.50) scale(0.85 1)" class="x">PH1</text>
<path d="M887.50 327.70V337.80" class="k"/>
<text transform="translate(886.71 350.30) scale(0.85 1)" class="x">F01</text>
<path d="M903.50 327.70V354.50" class="k"/>
<text transform="translate(903.77 366.50) scale(0.85 1)" class="x">F02</text>
<path d="M918.50 327.70V337.80" class="k"/>
<text transform="translate(916.62 350.30) scale(0.85 1)" class="x">F23</text>
<path d="M934.50 327.70V354.50" class="k"/>
<text transform="translate(932.62 366.50) scale(0.85 1)" class="x">F24</text>
<path d="M949.50 327.70V337.80" class="k"/>
<text transform="translate(950.33 350.30) scale(0.85 1)" class="x">PH6</text>
<path d="M965.50 327.70V354.50" class="k"/>
<text transform="translate(966.73 366.50) scale(0.85 1)" class="x">PH2</text>
<path d="M981.50 327.70V337.80" class="k"/>
<text transform="translate(982.54 350.30) scale(0.85 1)" class="x">PK1</text>
<path d="M996.50 327.70V354.50" class="k"/>
<text transform="translate(998.89 366.50) scale(0.85 1)" class="x">PN1</text>
<path d="M1012.50 327.70V337.80" class="k"/>
<text transform="translate(1011.54 350.30) scale(0.85 1)" class="x">KT3</text>
<path d="M1027.50 327.70V354.50" class="k"/>
<text transform="translate(1027.10 366.50) scale(0.85 1)" class="x">KH1</text>
<path d="M1043.50 327.70V337.80" class="k"/>
<text transform="translate(1044.25 350.30) scale(0.85 1)" class="x">KH3</text>
<text x="867.50" y="46.50" class="t" xml:space="preserve">c)  <tspan font-style="italic">H. larvatus</tspan></text>
</g>
<g id="pa" class="top">
<path d="M216.20 8.5H471.5V137.5M471.5 146V330.5H216.20M222.5 330.5V146M222.5 137.5V8.5" class="f"/>
<path d="M228.90 330.50v-89.25h17.2v89.25zM244.47 330.50v-115.00h17.2v115.00zM260.04 330.50v-182.75h17.2v182.75zM275.61 330.50v-185.20h17.2v185.20zM291.19 330.50v-62.50h17.2v62.50zM306.76 330.50v-67.50h17.2v67.50zM322.33 330.50v-103.00h17.2v103.00zM337.90 330.50v-125.00h17.2v125.00zM353.47 330.50v-84.25h17.2v84.25zM369.04 330.50v-131.00h17.2v131.00zM384.61 330.50v-38.50h17.2v38.50zM400.19 330.50v-185.20h17.2v185.20zM415.76 330.50v-75.50h17.2v75.50zM431.33 330.50v-96.00h17.2v96.00zM446.90 330.50v-185.20h17.2v185.20z" class="b"/>
<path d="M446.90 137.3V17h17.2V137.3z" class="b"/>
<text x="210.30" y="13.90" class="y" style="font-size:12.8px">0.8</text>
<path d="M216.20 51.50H222.50" class="k"/>
<text x="210.30" y="55.90" class="y" style="font-size:12.8px">0.7</text>
<path d="M216.20 94.50H222.50" class="k"/>
<text x="210.30" y="99.00" class="y" style="font-size:12.8px">0.6</text>
<text x="210.30" y="142.00" class="y" style="font-size:12.8px">0.5</text>
<path d="M216.20 207.50H222.50" class="k"/>
<text x="210.30" y="213.00" class="y" style="font-size:12.8px">0.2</text>
<path d="M216.20 269.50H222.50" class="k"/>
<text x="210.30" y="274.50" class="y" style="font-size:12.8px">0.1</text>
<text x="210.30" y="336.00" class="y" style="font-size:12.8px">0.0</text>
<path d="M215.50 137.90c2 -2.9 4.4 -2.7 7.3 -0.7s5.3 2.2 7.3 -0.7" class="w"/>
<path d="M215.50 146.90c2 -2.9 4.4 -2.7 7.3 -0.7s5.3 2.2 7.3 -0.7" class="w"/>
<path d="M464.20 137.90c2 -2.9 4.4 -2.7 7.3 -0.7s5.3 2.2 7.3 -0.7" class="w"/>
<path d="M464.20 146.90c2 -2.9 4.4 -2.7 7.3 -0.7s5.3 2.2 7.3 -0.7" class="w"/>
<path d="M237.50 327.70V337.80" class="k"/>
<text transform="translate(237.50 350.50) scale(0.85 1)" class="x" letter-spacing="0.7">JH2</text>
<path d="M253.50 327.70V354.50" class="k"/>
<text transform="translate(253.67 366.60) scale(0.85 1)" class="x" letter-spacing="0.7">JH3</text>
<path d="M268.50 327.70V337.80" class="k"/>
<text transform="translate(267.14 350.50) scale(0.85 1)" class="x">NS1</text>
<path d="M284.50 327.70V354.50" class="k"/>
<text transform="translate(283.41 366.60) scale(0.85 1)" class="x">PH1</text>
<path d="M299.50 327.70V337.80" class="k"/>
<text transform="translate(298.79 350.50) scale(0.85 1)" class="x">F01</text>
<path d="M315.50 327.70V354.50" class="k"/>
<text transform="translate(315.86 366.60) scale(0.85 1)" class="x">F02</text>
<path d="M330.50 327.70V337.80" class="k"/>
<text transform="translate(328.73 350.50) scale(0.85 1)" class="x">F23</text>
<path d="M346.50 327.70V354.50" class="k"/>
<text transform="translate(344.75 366.60) scale(0.85 1)" class="x">F24</text>
<path d="M362.50 327.70V337.80" class="k"/>
<text transform="translate(362.47 350.50) scale(0.85 1)" class="x">PH6</text>
<path d="M377.50 327.70V354.50" class="k"/>
<text transform="translate(378.89 366.60) scale(0.85 1)" class="x">PH2</text>
<path d="M393.50 327.70V337.80" class="k"/>
<text transform="translate(394.71 350.50) scale(0.85 1)" class="x">PK1</text>
<path d="M408.50 327.70V354.50" class="k"/>
<text transform="translate(411.09 366.60) scale(0.85 1)" class="x">PN1</text>
<path d="M424.50 327.70V337.80" class="k"/>
<text transform="translate(423.76 350.50) scale(0.85 1)" class="x">KT3</text>
<path d="M439.50 327.70V354.50" class="k"/>
<text transform="translate(439.33 366.60) scale(0.85 1)" class="x">KH1</text>
<path d="M455.50 327.70V337.80" class="k"/>
<text transform="translate(456.50 350.50) scale(0.85 1)" class="x">KH3</text>
<text x="289.50" y="48.00" class="t" xml:space="preserve">a)  <tspan font-style="italic">R. affinis</tspan></text>
</g>
<text transform="translate(28.3 1026.2) rotate(-90) scale(0.939 1)" class="big" id="ylab">Site level proportional abundance (n/N)</text>
<text transform="translate(172 1560.75) scale(0.939 1)" class="big" id="xlab">Sampling sites in ascending order of latitude (south to north)</text>
</svg>
</body>
</html>
